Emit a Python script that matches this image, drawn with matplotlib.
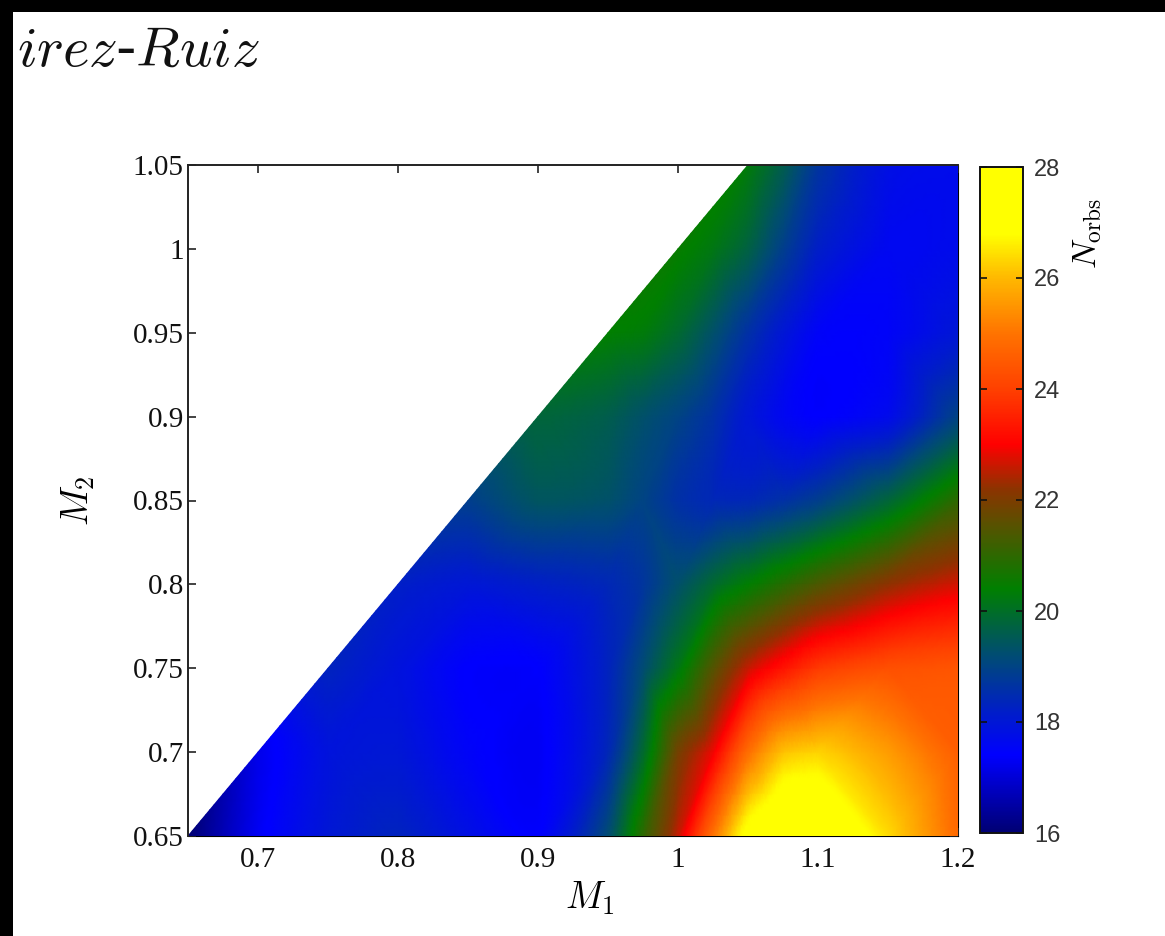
import numpy as np
import matplotlib
matplotlib.use("Agg")
import matplotlib.pyplot as plt
import matplotlib.tri as mtri
from matplotlib.colors import LinearSegmentedColormap
from matplotlib.patches import Rectangle

plt.rcParams['mathtext.fontset'] = 'cm'

# Grid of primary (M1) and secondary (M2) masses
m1 = [0.65, 0.70, 0.75, 0.80, 0.85, 0.90, 0.95, 0.975, 1.00, 1.025, 1.05, 1.075, 1.10, 1.15, 1.20]
m2 = [0.65, 0.70, 0.75, 0.80, 0.85, 0.90, 0.95, 1.00, 1.05]

# Number of orbits N_orbs; None where M2 > M1 (no data)
n_orbs = [
    # M2 = 0.65
    [16.0, 17.3, 18.0, 18.3, 17.8, 17.4, 19.2, 21.0, 22.6, 25.0, 27.2, 28.0, 28.0, 26.4, 24.8],
    # M2 = 0.70
    [None, 17.2, 17.9, 18.0, 17.5, 17.3, 18.4, 19.9, 21.9, 22.9, 24.9, 26.1, 26.3, 25.6, 24.6],
    # M2 = 0.75
    [None, None, 18.3, 17.9, 17.4, 17.4, 18.3, 19.2, 20.2, 21.5, 22.6, 23.3, 23.9, 24.3, 24.4],
    # M2 = 0.80
    [None, None, None, 18.2, 18.0, 18.2, 18.4, 18.7, 19.3, 19.9, 20.4, 20.9, 21.4, 22.2, 22.7],
    # M2 = 0.85
    [None, None, None, None, 18.9, 19.4, 19.3, 19.0, 18.6, 18.4, 18.4, 18.6, 18.9, 19.8, 21.0],
    # M2 = 0.90
    [None, None, None, None, None, 19.8, 19.6, 19.3, 19.0, 18.6, 18.0, 17.6, 17.4, 17.7, 19.0],
    # M2 = 0.95
    [None, None, None, None, None, None, 20.4, 20.3, 19.9, 19.3, 18.6, 18.0, 17.5, 17.5, 18.0],
    # M2 = 1.00
    [None, None, None, None, None, None, None, None, 20.5, 20.2, 19.7, 18.9, 18.2, 17.6, 17.7],
    # M2 = 1.05
    [None, None, None, None, None, None, None, None, None, None, 20.3, 19.6, 18.7, 17.8, 17.7],
]

cbar_ticks = [16, 18, 20, 22, 24, 26, 28]
x_ticks = [0.7, 0.8, 0.9, 1.0, 1.1, 1.2]
x_ticklabels = ['0.7', '0.8', '0.9', '1', '1.1', '1.2']
y_ticks = [0.65, 0.70, 0.75, 0.80, 0.85, 0.90, 0.95, 1.00, 1.05]
y_ticklabels = ['0.65', '0.7', '0.75', '0.8', '0.85', '0.9', '0.95', '1', '1.05']

# Colour map: navy -> blue -> teal -> green -> brown -> red -> orange -> yellow
vmin, vmax = 16.0, 28.0
cmap_nodes = [
    (16.0, (0.00, 0.00, 0.45)),
    (17.4, (0.00, 0.00, 1.00)),
    (18.2, (0.00, 0.12, 0.78)),
    (19.2, (0.00, 0.30, 0.45)),
    (20.4, (0.00, 0.50, 0.00)),
    (21.5, (0.33, 0.33, 0.00)),
    (22.2, (0.55, 0.20, 0.00)),
    (23.0, (1.00, 0.00, 0.00)),
    (24.0, (1.00, 0.25, 0.00)),
    (25.0, (1.00, 0.45, 0.00)),
    (26.0, (1.00, 0.72, 0.00)),
    (26.8, (1.00, 1.00, 0.00)),
    (28.0, (1.00, 1.00, 0.00)),
]
cmap = LinearSegmentedColormap.from_list(
    'norbs', [((v - vmin) / (vmax - vmin), c) for v, c in cmap_nodes], N=512)

# Collect the valid points (M2 <= M1)
px, py, pz = [], [], []
for j, y in enumerate(m2):
    for i, x in enumerate(m1):
        v = n_orbs[j][i]
        if v is not None:
            px.append(x)
            py.append(y)
            pz.append(v)
px, py, pz = np.array(px), np.array(py), np.array(pz)

# Smooth shading: refine the mesh, mixing cubic and linear interpolation
tri = mtri.Triangulation(px, py)
refiner = mtri.UniformTriRefiner(tri)
interp = mtri.CubicTriInterpolator(tri, pz, kind='geom')
tri_r, z_cub = refiner.refine_field(pz, triinterpolator=interp, subdiv=4)
z_lin = mtri.LinearTriInterpolator(tri, pz)(tri_r.x, tri_r.y)
z_r = 0.5 * (np.asarray(z_cub) + np.asarray(z_lin))

fig = plt.figure(figsize=(11.65, 9.36), dpi=100)
fig.patch.set_facecolor('white')

ax = fig.add_axes([188 / 1165, 1 - 836 / 936, 770 / 1165, 671 / 936])
ax.set_axisbelow(True)
tpc = ax.tripcolor(tri_r, z_r, shading='gouraud', cmap=cmap, vmin=vmin, vmax=vmax,
                   zorder=1, rasterized=True)
ax.set_xlim(0.65, 1.2)
ax.set_ylim(0.65, 1.05)

serif = ['Liberation Serif', 'DejaVu Serif']
ax.set_xticks(x_ticks)
ax.set_xticklabels(x_ticklabels, fontfamily=serif, fontsize=21)
ax.set_yticks(y_ticks)
ax.set_yticklabels(y_ticklabels, fontfamily=serif, fontsize=21)
ax.tick_params(direction='in', top=True, right=True, length=6, width=1.2,
               colors='#222222', labelcolor='#111111')
ax.tick_params(axis='x', pad=8)
ax.tick_params(axis='y', pad=3)
for side in ['left', 'top']:
    ax.spines[side].set_linewidth(1.4)
    ax.spines[side].set_color('#222222')
for side in ['right', 'bottom']:
    ax.spines[side].set_zorder(0.5)

ax.set_xlabel(r'$M_1$', fontsize=27, va='top')
ax.xaxis.set_label_coords((590 - 188) / 770, -(880 - 836) / 671)
ax.set_ylabel(r'$M_2$', fontsize=27, labelpad=26)

# Colour bar
cax = fig.add_axes([980 / 1165, 1 - 833 / 936, 43 / 1165, 666 / 936])
cb = fig.colorbar(tpc, cax=cax, ticks=cbar_ticks)
cb.outline.set_linewidth(1.4)
cb.outline.set_edgecolor('#111111')
cax.tick_params(direction='in', left=True, right=True, length=5, width=1.2,
                labelsize=17, pad=8, colors='#111111')
for lab in cax.get_yticklabels():
    lab.set_fontfamily(['Liberation Sans', 'DejaVu Sans'])
    lab.set_color('#333333')
cax.text(2.5, 0.9, r'$N_{\rm orbs}$', transform=cax.transAxes, rotation=90,
         ha='center', va='center', fontsize=24)

# Running header text
fig.text(17 / 1165, 1 - 66 / 936, r'$\mathit{irez}$-$\mathit{Ruiz}$', fontsize=41,
         ha='left', va='baseline', color='#111111')

# Black frame strips along the top and left edges
fig.patches.append(Rectangle((0, 0), 13 / 1165, 1, transform=fig.transFigure,
                             facecolor='black', edgecolor='none', zorder=10))
fig.patches.append(Rectangle((0, 1 - 12 / 936), 1, 12 / 936, transform=fig.transFigure,
                             facecolor='black', edgecolor='none', zorder=10))

fig.savefig('out.png', dpi=100, facecolor='white')
